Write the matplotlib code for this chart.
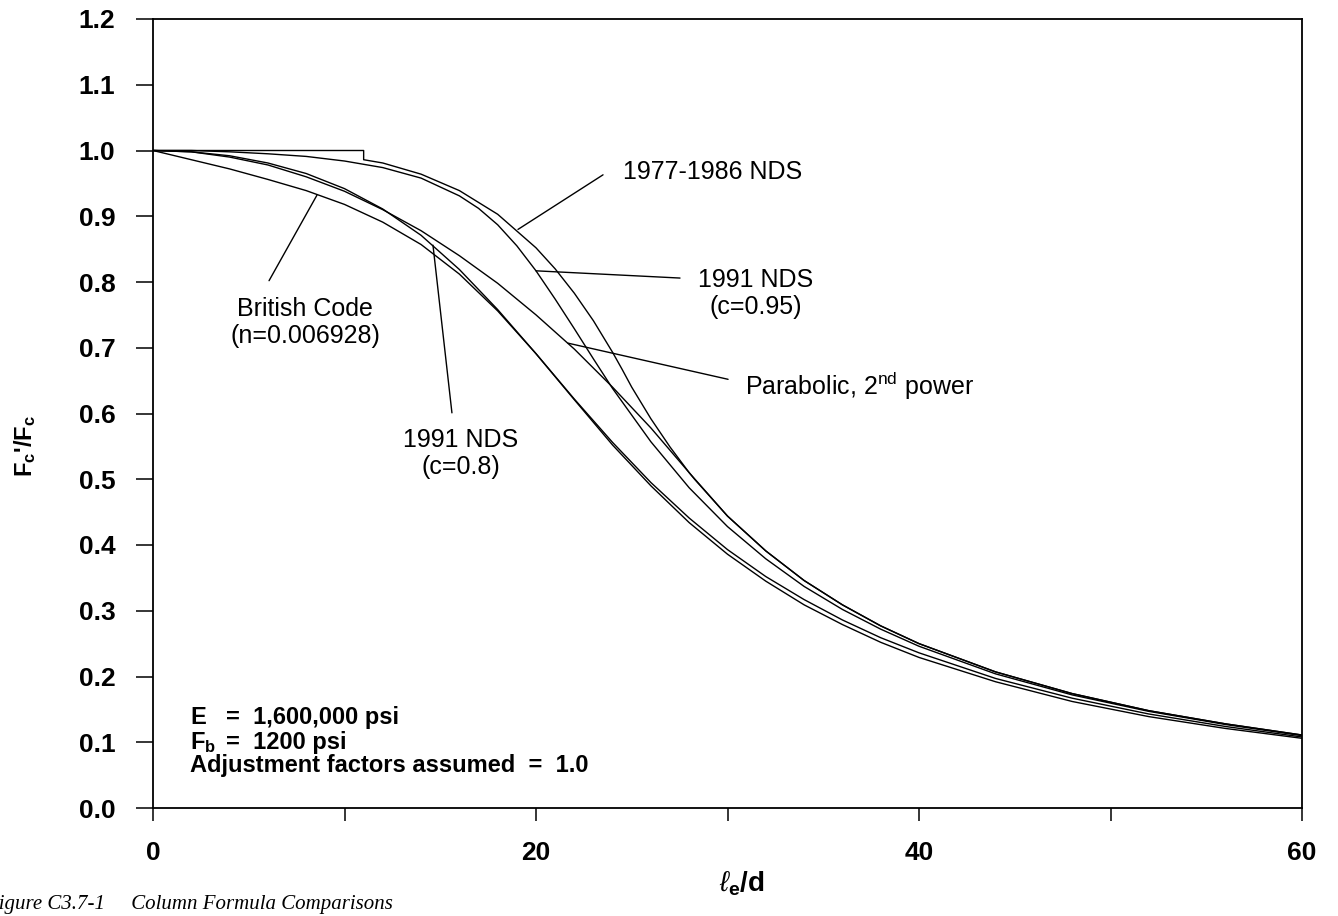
import matplotlib
matplotlib.use("Agg")
import matplotlib.pyplot as plt

plt.rcParams['font.family'] = ['Liberation Sans', 'DejaVu Sans']
plt.rcParams['mathtext.fontset'] = 'custom'
plt.rcParams['mathtext.rm'] = 'Liberation Sans'
plt.rcParams['mathtext.it'] = 'Liberation Sans:italic'
plt.rcParams['mathtext.bf'] = 'Liberation Sans:bold'

# l_e/d and Fc'/Fc
ld = [0, 2, 4, 6, 8, 10, 12, 14, 16, 18, 20, 22, 24, 26, 28, 30, 32, 34, 36, 38, 40, 44, 48, 52, 56, 60]
nds1991_c080 = [1.000, 0.998, 0.992, 0.981, 0.965, 0.942, 0.911, 0.871, 0.819, 0.758, 0.691, 0.622, 0.556,
                0.495, 0.441, 0.393, 0.352, 0.317, 0.286, 0.259, 0.236, 0.197, 0.167, 0.143, 0.124, 0.108]
british = [1.000, 0.986, 0.972, 0.956, 0.939, 0.918, 0.891, 0.857, 0.812, 0.756, 0.691, 0.621, 0.552,
           0.490, 0.434, 0.386, 0.345, 0.309, 0.279, 0.252, 0.229, 0.192, 0.162, 0.139, 0.121, 0.106]

ld_c095 = [0, 2, 4, 6, 8, 10, 12, 14, 16, 17, 18, 19, 20, 21, 22, 23, 24, 26, 28, 30, 32, 34, 36, 38, 40,
           44, 48, 52, 56, 60]
nds1991_c095 = [1.000, 1.000, 0.998, 0.995, 0.991, 0.984, 0.974, 0.958, 0.931, 0.912, 0.887, 0.855, 0.817,
                0.774, 0.729, 0.683, 0.638, 0.557, 0.487, 0.428, 0.379, 0.337, 0.302, 0.272, 0.246, 0.204,
                0.172, 0.147, 0.127, 0.110]

ld_1977 = [0, 11, 11, 12, 14, 16, 18, 20, 21, 22, 23, 24, 24.5, 25, 26, 27, 28, 30, 32, 34, 36, 38, 40,
           44, 48, 52, 56, 60]
nds1977 = [1.000, 1.000, 0.986, 0.981, 0.964, 0.939, 0.903, 0.852, 0.820, 0.783, 0.741, 0.693, 0.667,
           0.640, 0.592, 0.549, 0.510, 0.444, 0.391, 0.346, 0.309, 0.277, 0.250, 0.207, 0.174, 0.148,
           0.128, 0.111]

ld_para = [0, 2, 4, 6, 8, 10, 12, 14, 16, 18, 20, 22, 24, 26, 28, 28.28, 30, 32, 34, 36, 38, 40, 44, 48,
           52, 56, 60]
parabolic = [1.000, 0.998, 0.990, 0.978, 0.960, 0.938, 0.910, 0.878, 0.840, 0.798, 0.750, 0.698, 0.640,
             0.578, 0.510, 0.500, 0.444, 0.391, 0.346, 0.309, 0.277, 0.250, 0.207, 0.174, 0.148, 0.128, 0.111]

fig = plt.figure(figsize=(13.38, 9.16), dpi=100)
ax = fig.add_axes([153 / 1338, 1 - 808 / 916, (1302 - 153) / 1338, (808 - 19) / 916])

lw = 1.0
for x, y in [(ld, nds1991_c080), (ld, british), (ld_c095, nds1991_c095),
             (ld_1977, nds1977), (ld_para, parabolic)]:
    ax.plot(x, y, color='black', lw=lw)

ax.set_xlim(0, 60)
ax.set_ylim(0, 1.2)
ax.set_xticks([0, 20, 40, 60])
ax.set_xticks([10, 30, 50], minor=True)
ax.set_yticks([i / 10 for i in range(13)])
ax.set_yticklabels(['%.1f' % (i / 10) for i in range(13)])
for s in ax.spines.values():
    s.set_linewidth(1.3)
ax.tick_params(axis='y', direction='out', length=12, width=1.1, pad=15, labelsize=19)
ax.tick_params(axis='x', which='both', direction='out', length=9, width=1.1, pad=15, labelsize=19)
for lab in ax.get_xticklabels() + ax.get_yticklabels():
    lab.set_fontweight('bold')

# curve labels and leader lines
lbl = dict(fontsize=18, color='black')
lead = dict(arrowstyle='-', color='black', lw=1.0, shrinkA=0, shrinkB=0)

ax.text(24.54, 0.967, '1977-1986 NDS', ha='left', va='center', **lbl)
ax.annotate('', xy=(19.06, 0.880), xytext=(23.5, 0.963), arrowprops=lead)

ax.text(31.46, 0.783, '1991 NDS\n(c=0.95)', ha='center', va='center', linespacing=1.15, **lbl)
ax.annotate('', xy=(20.0, 0.817), xytext=(27.52, 0.806), arrowprops=lead)

ax.text(30.91, 0.642, 'Parabolic, 2$^{\\mathrm{nd}}$ power', ha='left', va='center', **lbl)
ax.annotate('', xy=(21.67, 0.707), xytext=(30.03, 0.652), arrowprops=lead)

ax.text(16.06, 0.539, '1991 NDS\n(c=0.8)', ha='center', va='center', linespacing=1.15, **lbl)
ax.annotate('', xy=(14.62, 0.856), xytext=(15.61, 0.601), arrowprops=lead)

ax.text(7.96, 0.738, 'British Code\n(n=0.006928)', ha='center', va='center', linespacing=1.15, **lbl)
ax.annotate('', xy=(8.56, 0.932), xytext=(6.06, 0.802), arrowprops=lead)

# design values block
blk = dict(fontsize=17, fontweight='bold', ha='left', va='center')
ax.text(1.93, 0.138, 'E', **blk)
ax.text(3.81, 0.138, '=  1,600,000 psi', **blk)
ax.text(1.93, 0.100, 'F$_\\mathbf{b}$', **blk)
ax.text(3.81, 0.100, '=  1200 psi', **blk)
ax.text(1.93, 0.064, 'Adjustment factors assumed  =  1.0', **blk)

fig.text(25 / 1338, 1 - 446 / 916, 'F$_\\mathbf{c}$\'/F$_\\mathbf{c}$', rotation=90,
         ha='center', va='center', fontsize=17, fontweight='bold')
fig.text(742 / 1338, 1 - 884 / 916, '$\\ell_\\mathbf{e}$/d', ha='center', va='center',
         fontsize=20, fontweight='bold')
fig.text(-14 / 1338, 1 - 905 / 916, 'Figure C3.7-1     Column Formula Comparisons', ha='left',
         va='center', fontsize=15, style='italic', family='Liberation Serif')

fig.savefig('out.png', dpi=100)
